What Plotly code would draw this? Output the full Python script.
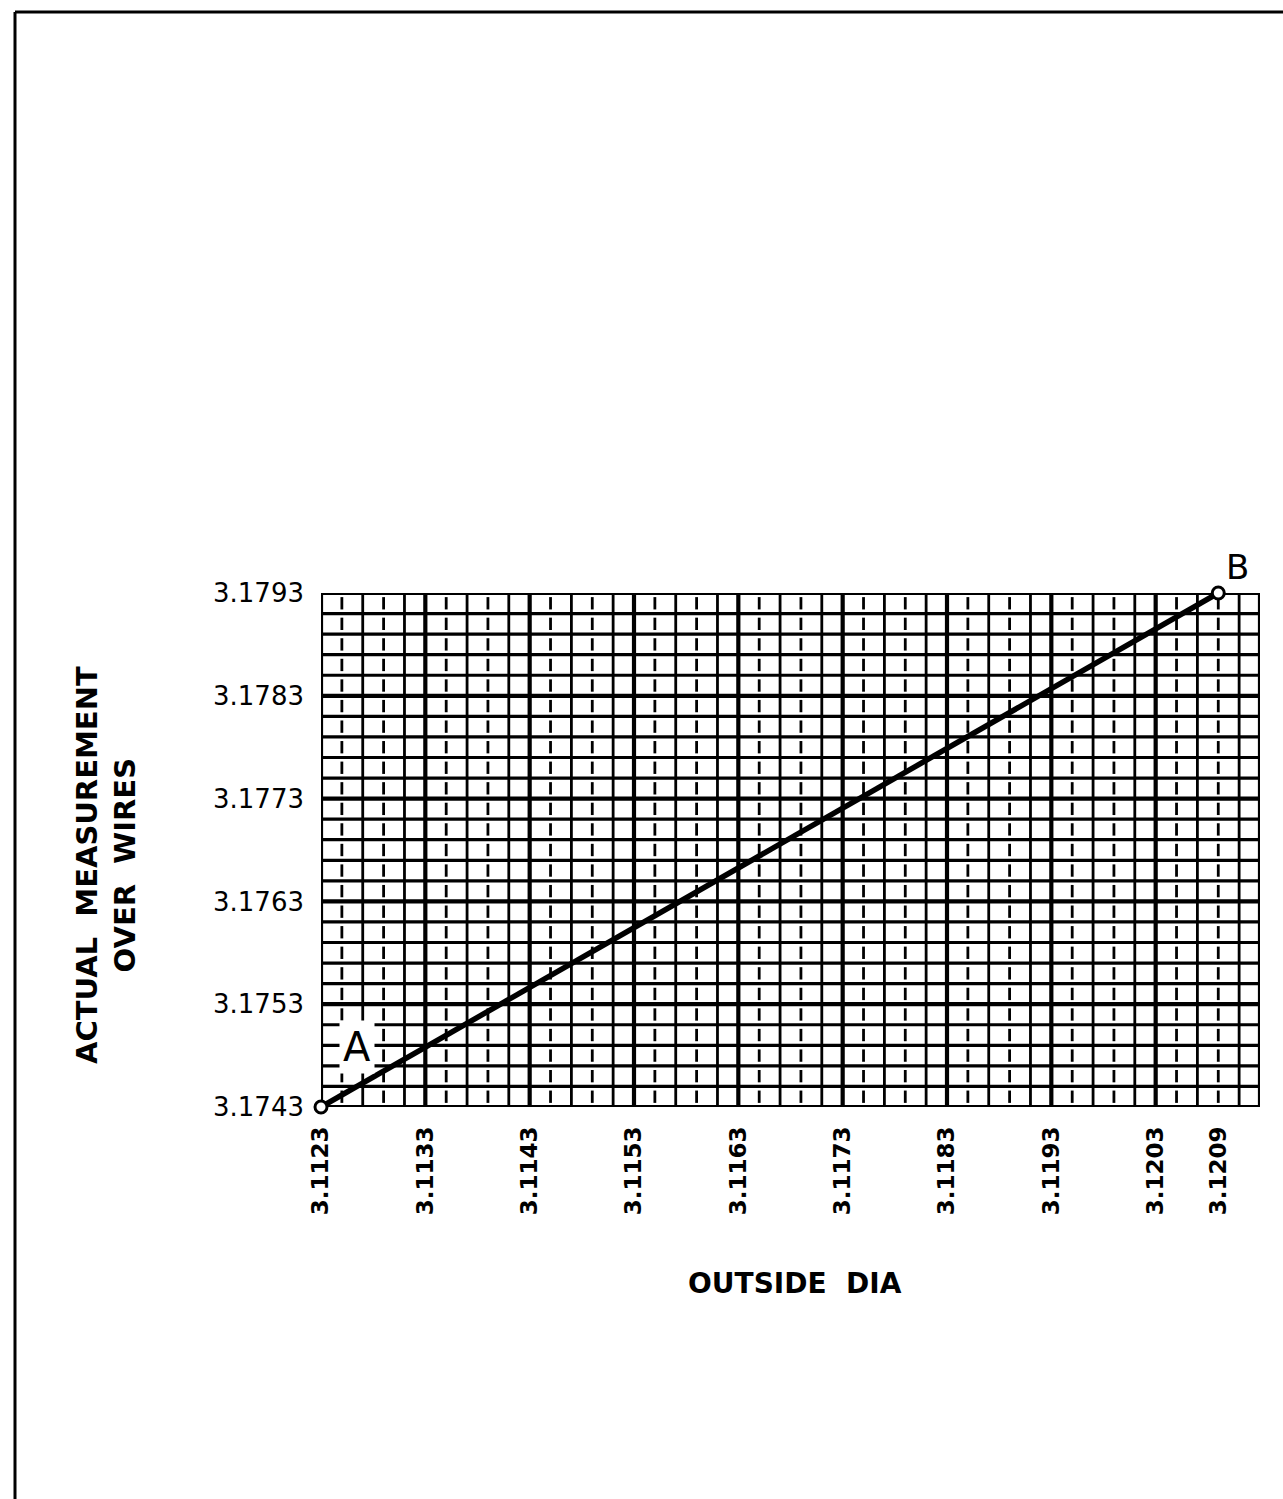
import plotly.graph_objects as go

# ---- data ----
x_tick_vals = [3.1123, 3.1133, 3.1143, 3.1153, 3.1163, 3.1173, 3.1183, 3.1193, 3.1203, 3.1209]
x_tick_text = ["3.1123", "3.1133", "3.1143", "3.1153", "3.1163", "3.1173", "3.1183", "3.1193", "3.1203", "3.1209"]
y_tick_vals = [3.1743, 3.1753, 3.1763, 3.1773, 3.1783, 3.1793]
y_tick_text = ["3.1743", "3.1753", "3.1763", "3.1773", "3.1783", "3.1793"]
x_range = [3.1123, 3.1213]
y_range = [3.1743, 3.1793]
grid_step = 0.0002
line_x = [3.1123, 3.1209]
line_y = [3.1743, 3.1793]
point_names = ["A", "B"]

FONT = "DejaVu Sans"
W, H = 1283, 1499
L, R, T, B = 321, 23, 593, 392
pw, ph = W - L - R, H - T - B

fig = go.Figure()

nx = int(round((x_range[1] - x_range[0]) / grid_step))
ny = int(round((y_range[1] - y_range[0]) / grid_step))

def seg_trace(xs, ys, width):
    return go.Scatter(x=xs, y=ys, mode="lines", hoverinfo="skip", showlegend=False,
                      line=dict(color="black", width=width), cliponaxis=False)

# vertical lines every grid step: heavy at each 0.001, otherwise alternating broken / solid
v_thin_x, v_thin_y, v_heavy_x, v_heavy_y, v_dash_x, v_dash_y = [], [], [], [], [], []
for i in range(nx + 1):
    xv = x_range[0] + i * grid_step
    if i % 5 == 0 or i == nx:
        v_heavy_x += [xv, xv, None]; v_heavy_y += [y_range[0], y_range[1], None]
    elif (i % 5) in (1, 3):
        for j in range(ny):
            y0 = y_range[0] + (j + 0.2) * grid_step
            v_dash_x += [xv, xv, None]; v_dash_y += [y0, y0 + 0.6 * grid_step, None]
    else:
        v_thin_x += [xv, xv, None]; v_thin_y += [y_range[0], y_range[1], None]

# horizontal lines every grid step, heavy at each 0.001
h_thin_x, h_thin_y, h_heavy_x, h_heavy_y = [], [], [], []
for j in range(ny + 1):
    yv = y_range[0] + j * grid_step
    if j % 5 == 0:
        h_heavy_x += [x_range[0], x_range[1], None]; h_heavy_y += [yv, yv, None]
    else:
        h_thin_x += [x_range[0], x_range[1], None]; h_thin_y += [yv, yv, None]

fig.add_trace(seg_trace(v_dash_x, v_dash_y, 2.8))
fig.add_trace(seg_trace(v_thin_x, v_thin_y, 2.8))
fig.add_trace(seg_trace(h_thin_x, h_thin_y, 3.2))
fig.add_trace(seg_trace(v_heavy_x, v_heavy_y, 4.2))
fig.add_trace(seg_trace(h_heavy_x, h_heavy_y, 4.2))

# label A (drawn before the line so the line passes over its box)
fig.add_annotation(x=line_x[0], y=line_y[0], text=point_names[0], showarrow=False,
                   xshift=36, yshift=60, font=dict(family=FONT, size=40, color="black"),
                   bgcolor="white", borderpad=3)

# main line A-B
fig.add_trace(go.Scatter(x=line_x, y=line_y, mode="lines+markers", showlegend=False,
                         hoverinfo="skip", cliponaxis=False,
                         line=dict(color="black", width=5.5),
                         marker=dict(symbol="circle", size=12, color="white",
                                     line=dict(color="black", width=3))))

fig.add_annotation(x=line_x[1], y=line_y[1], text=point_names[1], showarrow=False,
                   xshift=19, yshift=26, font=dict(family=FONT, size=34, color="black"))

def px_x(p):
    return (p - L) / pw

def px_y(p):
    return (H - B - p) / ph

# axis titles
fig.add_annotation(xref="paper", yref="paper", x=px_x(795), y=px_y(1302),
                   text="<b>OUTSIDE  DIA</b>", showarrow=False,
                   font=dict(family=FONT, size=28, color="black"))
fig.add_annotation(xref="paper", yref="paper", x=px_x(68), y=px_y(865),
                   text="<b>ACTUAL  MEASUREMENT</b><br><b>OVER  WIRES</b>", showarrow=False, textangle=-90,
                   font=dict(family=FONT, size=29, color="black"))

# page frame (top and left edges of the scanned sheet)
fig.add_shape(type="line", xref="paper", yref="paper", x0=px_x(15), x1=px_x(1283),
              y0=px_y(12), y1=px_y(12), line=dict(color="black", width=3))
fig.add_shape(type="line", xref="paper", yref="paper", x0=px_x(15), x1=px_x(15),
              y0=px_y(12), y1=px_y(1499), line=dict(color="black", width=3))

fig.update_layout(
    width=W, height=H, margin=dict(l=L, r=R, t=T, b=B),
    paper_bgcolor="white", plot_bgcolor="white",
    font=dict(family=FONT, color="black"),
    xaxis=dict(range=x_range, tickmode="array", tickvals=x_tick_vals, ticktext=x_tick_text,
               tickangle=-90, showgrid=False, zeroline=False, showline=False, ticks="",
               ticklabelstandoff=14, tickfont=dict(family=FONT, size=23, color="black", weight="bold")),
    yaxis=dict(range=y_range, tickmode="array", tickvals=y_tick_vals, ticktext=y_tick_text,
               showgrid=False, zeroline=False, showline=False, ticks="",
               ticklabelstandoff=16, tickfont=dict(family=FONT, size=26, color="black")),
)

fig.write_html("out.html", config={"displayModeBar": False},
               post_script="document.body.style.margin='0';document.body.style.overflow='hidden';")
